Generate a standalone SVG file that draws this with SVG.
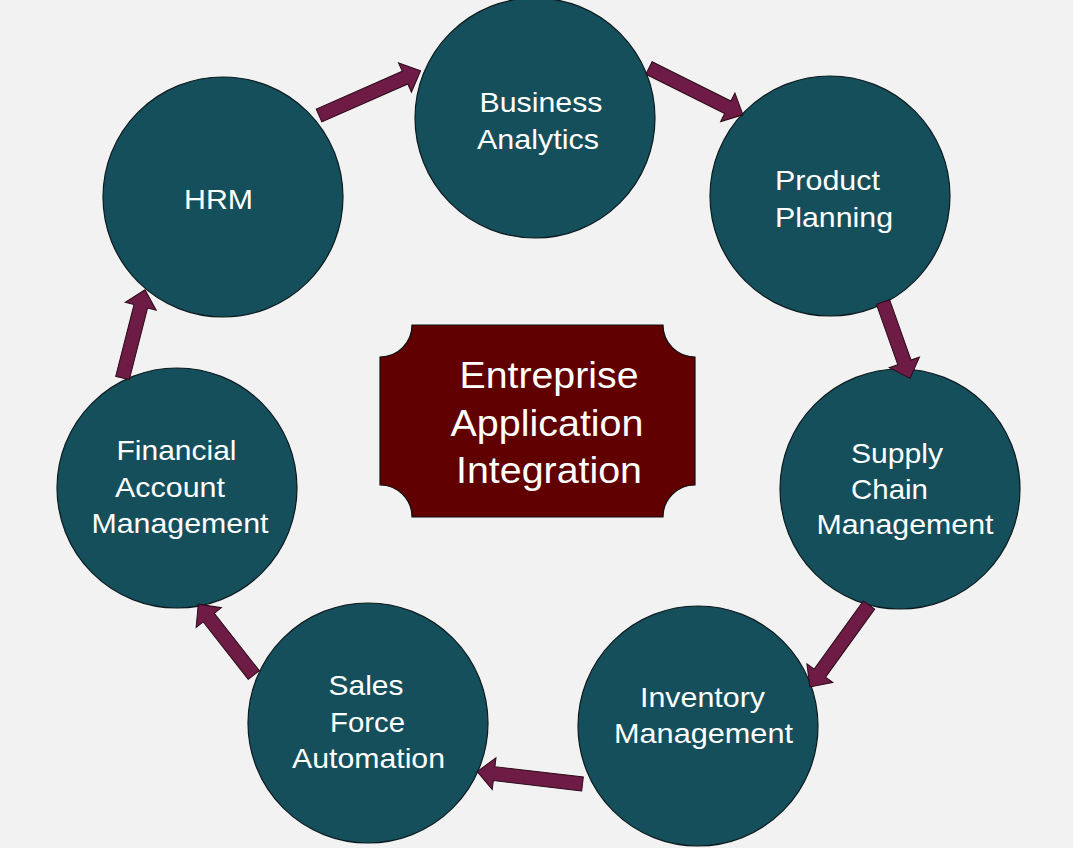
<svg xmlns="http://www.w3.org/2000/svg" width="1073" height="848" viewBox="0 0 1073 848">
<style>
.node circle{fill:#164f5c;stroke:#0a1a1e;stroke-width:1.2}
.lbl{font-family:"Liberation Sans",Arial,sans-serif;font-size:28px;fill:#ffffff;text-anchor:middle}
.big{font-family:"Liberation Sans",Arial,sans-serif;font-size:37px;fill:#ffffff;text-anchor:middle}
.arrow{fill:#6e1b46;stroke:#2a0a18;stroke-width:1}
</style>
<rect x="0" y="0" width="1073" height="848" fill="#f2f2f2"/>
<g id="center">
<path d="M412,325 H663 A32,32 0 0 0 695,357 V485 A32,32 0 0 0 663,517 H412 A32,32 0 0 0 380,485 V357 A32,32 0 0 0 412,325 Z" fill="#600000" stroke="#111" stroke-width="1.2"/>
<text class="big" x="549" y="388" textLength="179" lengthAdjust="spacingAndGlyphs">Entreprise</text>
<text class="big" x="547" y="436" textLength="193" lengthAdjust="spacingAndGlyphs">Application</text>
<text class="big" x="549" y="483" textLength="186" lengthAdjust="spacingAndGlyphs">Integration</text>
</g>
<g id="business-analytics" class="node">
<circle cx="535" cy="118" r="120"/>
<text class="lbl" x="541" y="112" textLength="123" lengthAdjust="spacingAndGlyphs">Business</text>
<text class="lbl" x="538" y="149" textLength="122" lengthAdjust="spacingAndGlyphs">Analytics</text>
</g>
<g id="product-planning" class="node">
<circle cx="830" cy="196" r="120"/>
<text class="lbl" x="827.5" y="190" textLength="105" lengthAdjust="spacingAndGlyphs">Product</text>
<text class="lbl" x="834" y="227" textLength="118" lengthAdjust="spacingAndGlyphs">Planning</text>
</g>
<g id="supply-chain" class="node">
<circle cx="900" cy="489" r="120"/>
<text class="lbl" x="897" y="463" textLength="92" lengthAdjust="spacingAndGlyphs">Supply</text>
<text class="lbl" x="889.5" y="499" textLength="77" lengthAdjust="spacingAndGlyphs">Chain</text>
<text class="lbl" x="905" y="534" textLength="177" lengthAdjust="spacingAndGlyphs">Management</text>
</g>
<g id="inventory" class="node">
<circle cx="698" cy="726" r="120"/>
<text class="lbl" x="702.5" y="707" textLength="125" lengthAdjust="spacingAndGlyphs">Inventory</text>
<text class="lbl" x="703.5" y="743" textLength="179" lengthAdjust="spacingAndGlyphs">Management</text>
</g>
<g id="sales-force" class="node">
<circle cx="368" cy="723" r="120"/>
<text class="lbl" x="366" y="695" textLength="75" lengthAdjust="spacingAndGlyphs">Sales</text>
<text class="lbl" x="367.5" y="732" textLength="75" lengthAdjust="spacingAndGlyphs">Force</text>
<text class="lbl" x="368.5" y="768" textLength="153" lengthAdjust="spacingAndGlyphs">Automation</text>
</g>
<g id="financial" class="node">
<circle cx="177" cy="488" r="120"/>
<text class="lbl" x="176.5" y="460" textLength="120" lengthAdjust="spacingAndGlyphs">Financial</text>
<text class="lbl" x="170" y="497" textLength="110" lengthAdjust="spacingAndGlyphs">Account</text>
<text class="lbl" x="180" y="533" textLength="177" lengthAdjust="spacingAndGlyphs">Management</text>
</g>
<g id="hrm" class="node">
<circle cx="223" cy="197" r="120"/>
<text class="lbl" x="218.5" y="209" textLength="69" lengthAdjust="spacingAndGlyphs">HRM</text>
</g>
<g id="connectors">
<polygon class="arrow" transform="translate(319,115.5) rotate(-23.8)" points="0,-7 94,-7 94,-16 111,0 94,16 94,7 0,7"/>
<polygon class="arrow" transform="translate(649,68) rotate(26.5)" points="0,-7 88,-7 88,-16 105,0 88,16 88,7 0,7"/>
<polygon class="arrow" transform="translate(883,302) rotate(70.5)" points="0,-7 64,-7 64,-16 81,0 64,16 64,7 0,7"/>
<polygon class="arrow" transform="translate(869,605) rotate(125.8)" points="0,-7 84,-7 84,-16 101,0 84,16 84,7 0,7"/>
<polygon class="arrow" transform="translate(582.5,784) rotate(186.7)" points="0,-7 89,-7 89,-16 106,0 89,16 89,7 0,7"/>
<polygon class="arrow" transform="translate(253.8,675) rotate(-128.1)" points="0,-7 73,-7 73,-16 90,0 73,16 73,7 0,7"/>
<polygon class="arrow" transform="translate(122.5,378) rotate(-75.7)" points="0,-7 74,-7 74,-16 91,0 74,16 74,7 0,7"/>
</g>
</svg>
